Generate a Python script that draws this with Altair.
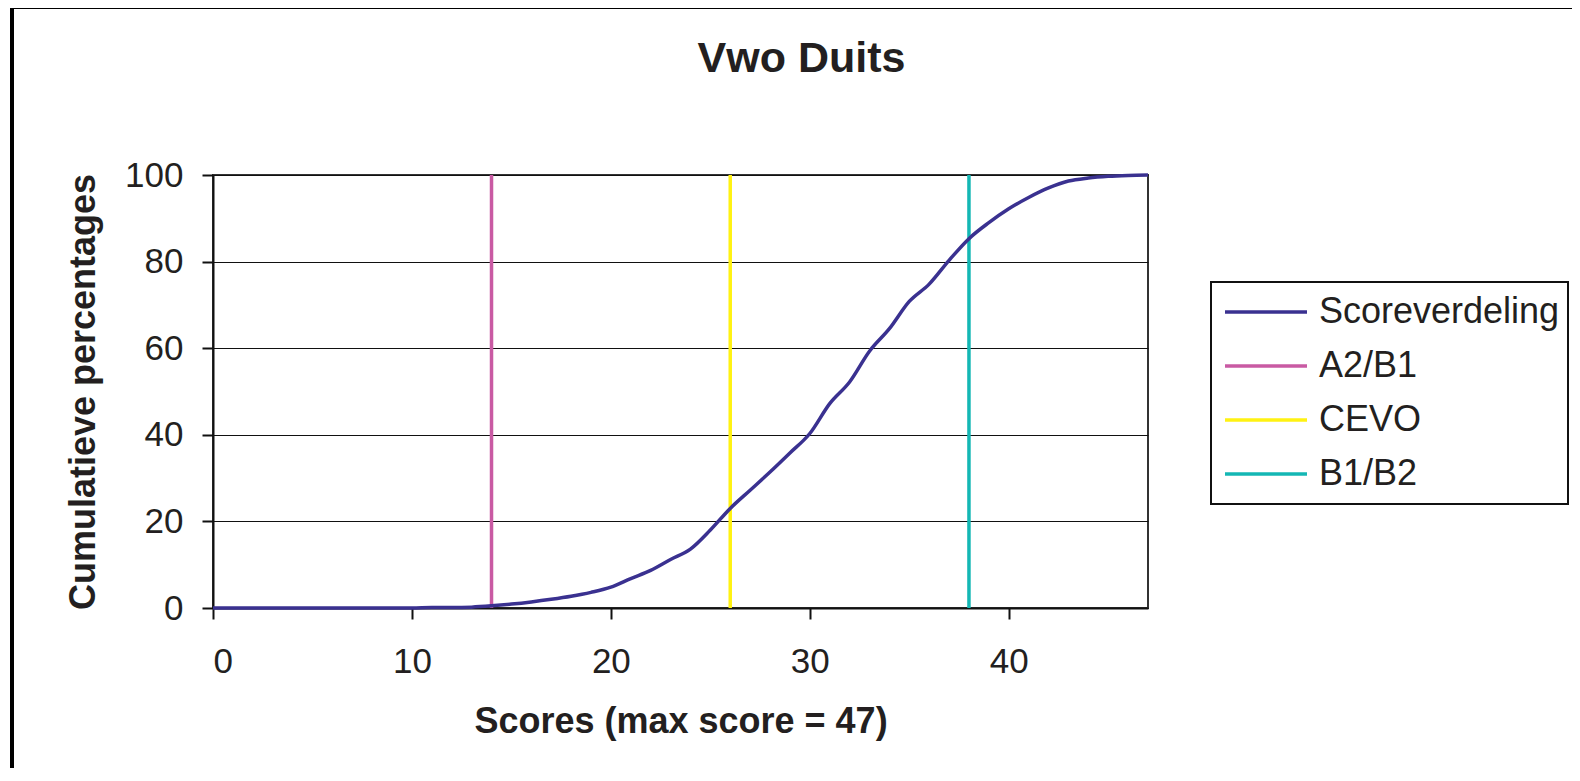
import altair as alt
import pandas as pd

# ---- data ----
scores = list(range(0, 48))
cum_pct = [0.0, 0.0, 0.0, 0.0, 0.0, 0.0, 0.0, 0.0, 0.0, 0.0, 0.0,
           0.1, 0.1, 0.2, 0.5, 0.9, 1.4, 2.0, 2.7, 3.6, 4.8,
           6.8, 8.7, 11.2, 13.6, 18.0, 23.0, 27.2, 31.4, 35.8, 40.3,
           47.2, 52.2, 59.3, 64.5, 70.8, 74.8, 80.3, 85.3, 89.0, 92.2,
           94.8, 97.0, 98.6, 99.3, 99.7, 99.9, 100.0]
cut_names = ["A2/B1", "CEVO", "B1/B2"]
cut_scores = [14, 26, 38]
series_names = ["Scoreverdeling", "A2/B1", "CEVO", "B1/B2"]
series_colors = ["#3A3190", "#C95AA3", "#FFF212", "#14B7B4"]
x_ticks = [0, 10, 20, 30, 40]
y_ticks = [0, 20, 40, 60, 80, 100]

FONT = "Liberation Sans"
TXT = "#231F20"

curve_df = pd.DataFrame({"score": scores, "pct": cum_pct,
                         "series": ["Scoreverdeling"] * len(scores)})
cut_df = pd.DataFrame({"score": cut_scores, "series": cut_names})

color = alt.Color(
    "series:N",
    scale=alt.Scale(domain=series_names, range=series_colors),
    legend=alt.Legend(
        title=None, orient="none", legendX=998, legendY=107,
        symbolType="stroke", symbolSize=6724, symbolStrokeWidth=3.5,
        labelFont=FONT, labelFontSize=36, labelColor=TXT, labelOffset=10,
        labelLimit=500,
        padding=8, rowPadding=10, clipHeight=44, symbolOffset=4,
        strokeColor="#111111",
    ),
)

x_enc = alt.X("score:Q",
              scale=alt.Scale(domain=[0, 47], nice=False, zero=False),
              axis=alt.Axis(values=x_ticks, grid=False, title="Scores (max score = 47)",
                            labelPadding=25, titlePadding=25, format="d"))
y_enc = alt.Y("pct:Q",
              scale=alt.Scale(domain=[0, 100], nice=False),
              axis=alt.Axis(values=y_ticks, grid=True, title="Cumulatieve percentages",
                            labelPadding=19, titlePadding=22, format="d"))

curve = alt.Chart(curve_df).mark_line(strokeWidth=3.5, interpolate="monotone").encode(
    x=x_enc, y=y_enc, color=color
)

cuts = alt.Chart(cut_df).mark_rule(strokeWidth=3.5).encode(
    x=alt.X("score:Q"), color=alt.Color("series:N")
)

frame_df = pd.DataFrame({"k": [0]})
frame_left = alt.Chart(frame_df).mark_rule(color="#000000", strokeWidth=4).encode(
    x=alt.value(-201), y=alt.value(-170), y2=alt.value(620)
)
frame_top = alt.Chart(frame_df).mark_rule(color="#000000", strokeWidth=4).encode(
    x=alt.value(-203), x2=alt.value(1370), y=alt.value(-168)
)

chart = alt.layer(cuts, curve, frame_left, frame_top).properties(
    width=935,
    height=433,
    padding={"left": 205, "top": 167, "right": 424, "bottom": 160},
    autosize=alt.AutoSizeParams(type="none"),
    background="white",
    title=alt.Title("Vwo Duits", font=FONT, fontSize=43, fontWeight="bold",
                    color=TXT, anchor="middle", frame="group", dx=121, offset=-78),
).configure_axis(
    labelFont=FONT, labelFontSize=35, labelColor=TXT,
    titleFont=FONT, titleFontSize=36, titleFontWeight="bold", titleColor=TXT,
    domainColor="#111111", domainWidth=2,
    tickColor="#111111", tickWidth=2, tickSize=11,
    gridColor="#111111", gridWidth=1, gridOpacity=1,
).configure_legend(
    strokeWidth=2
).configure_view(
    stroke="#333333", strokeWidth=2
)

chart.save("out.html", embed_options={"renderer": "svg", "actions": False})
